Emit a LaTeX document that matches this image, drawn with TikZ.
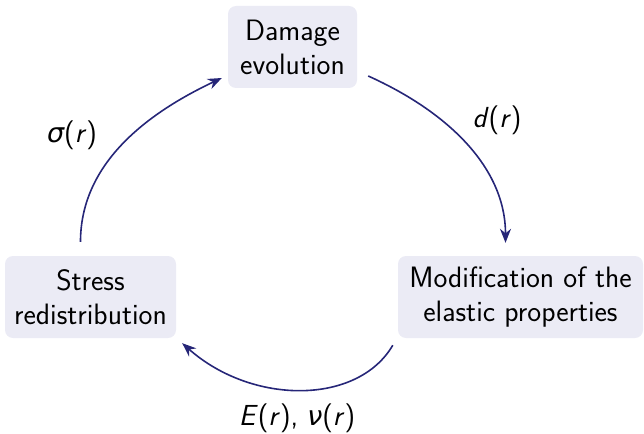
\documentclass[tikz,border=0pt]{standalone}
\usepackage{fontspec}
\newfontfamily\grk{DejaVu Sans}
\usetikzlibrary{arrows.meta}
\definecolor{boxfill}{RGB}{235,235,245}
\definecolor{arrcol}{RGB}{38,38,120}
\newcommand{\mv}[1]{\textit{#1}}
\newcommand{\gk}[1]{{\grk\itshape\fontsize{27}{34}\selectfont #1}}
\tikzset{
  box/.style={fill=boxfill, rounded corners=8pt, align=center, inner sep=0pt,
    minimum height=82pt, font=\fontsize{29.5}{34}\selectfont\sffamily},
  arr/.style={draw=arrcol, line width=1.6pt, -{Stealth[length=14pt,width=11pt]}},
  lab/.style={font=\fontsize{29}{34}\selectfont\sffamily}
}
\begin{document}
\begin{tikzpicture}[x=1pt,y=-1pt]
\useasboundingbox (0,0) rectangle (644,433);
\node[box, minimum width=129pt] (dam) at (292.5,47) {Damage\\evolution};
\node[box, minimum width=171pt] (str) at (90.5,297) {Stress\\redistribution};
\node[box, minimum width=245pt] (mod) at (520.5,297) {Modification of the\\elastic properties};
\draw[arr] ([shift={(11,29)}]dam.east) .. controls +(80,36) and +(0,-75) .. ([shift={(-15,-13)}]mod.north);
\draw[arr] ([shift={(-5,7)}]mod.south west) .. controls +(-35,60) and +(70,62) .. ([shift={(6,5)}]str.south east);
\draw[arr] ([shift={(-10,-14)}]str.north) .. controls +(0,-80) and +(-72,34) .. ([shift={(-6,31)}]dam.west);
\node[lab] (ls) at (72,135) {\gk{σ}(\mv{r}\/)};
\node[lab] (ld) at (497,120) {\mv{d}\/(\mv{r}\/)};
\node[lab] (le) at (297,418) {\mv{E}\/(\mv{r}\/), \gk{ν}(\mv{r}\/)};
\end{tikzpicture}
\end{document}
